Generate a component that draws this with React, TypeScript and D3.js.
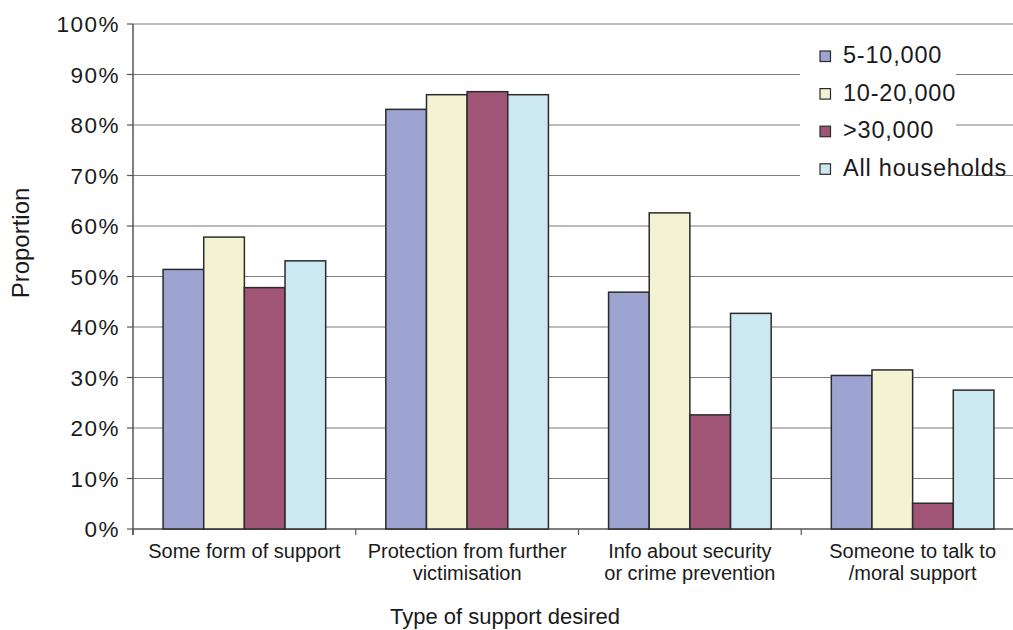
import React from "react";
import * as d3 from "d3";

const categories: string[][] = [
  ["Some form of support"],
  ["Protection from further", "victimisation"],
  ["Info about security", "or crime prevention"],
  ["Someone to talk to", "/moral support"],
];
const seriesNames = ["5-10,000", "10-20,000", ">30,000", "All households"];
const seriesColors = ["#9da4d2", "#f3f2d3", "#a05577", "#cce9f2"];
const s510 = [0.514, 0.831, 0.469, 0.304];
const s1020 = [0.578, 0.86, 0.626, 0.315];
const s30 = [0.478, 0.866, 0.226, 0.051];
const sAll = [0.531, 0.86, 0.427, 0.275];
const seriesValues = [s510, s1020, s30, sAll];
const yTicks = [0, 0.1, 0.2, 0.3, 0.4, 0.5, 0.6, 0.7, 0.8, 0.9, 1.0];

const W = 1013;
const H = 630;
const FONT = "'Liberation Sans', Arial, Helvetica, sans-serif";

export default function App() {
  const left = 133;
  const right = 1024;
  const top = 24;
  const bottom = 529;
  const catIdx = categories.map((_, i) => String(i));
  const x = d3.scaleBand().domain(catIdx).range([left, right]).paddingInner(0.27).paddingOuter(0.135);
  const xs = d3.scaleBand().domain(seriesNames).range([0, x.bandwidth()]).padding(0);
  const y = d3.scaleLinear().domain([0, 1]).range([bottom, top]);
  const fmt = d3.format(".0%");
  const step = x.step();
  const boundaries = d3.range(categories.length + 1).map((i) => left + i * step);

  return (
    <svg width={W} height={H} style={{ position: "absolute", left: 0, top: 0, background: "#fff" }} fontFamily={FONT}>
      {/* gridlines */}
      {yTicks.filter((t) => t > 0).map((t) => (
        <line key={"g" + t} x1={left} x2={W} y1={y(t)} y2={y(t)} stroke="#7d7d7d" strokeWidth={1.2} />
      ))}
      {/* legend background */}
      <rect x={800} y={36} width={156} height={154} fill="#fff" />
      {/* x-axis line */}
      <line x1={left} x2={W} y1={bottom} y2={bottom} stroke="#555" strokeWidth={1.5} />
      {boundaries.map((b, i) => (
        <line key={"xt" + i} x1={b} x2={b} y1={bottom} y2={bottom + 6} stroke="#555" strokeWidth={1.2} />
      ))}
      {/* y-axis */}
      <line x1={left} x2={left} y1={top} y2={bottom + 6} stroke="#555" strokeWidth={1.5} />
      {yTicks.map((t) => (
        <g key={"yt" + t}>
          <line x1={left - 6} x2={left} y1={y(t)} y2={y(t)} stroke="#555" strokeWidth={1.2} />
          <text x={left - 13} y={y(t)} dy="0.36em" textAnchor="end" fontSize={22.5} letterSpacing={1.5} fill="#1a1a1a">
            {fmt(t)}
          </text>
        </g>
      ))}
      {/* bars */}
      {categories.map((_, ci) => (
        <g key={"c" + ci} transform={`translate(${x(String(ci))},0)`}>
          {seriesNames.map((s, si) => (
            <rect
              key={s}
              x={xs(s)}
              y={y(seriesValues[si][ci])}
              width={xs.bandwidth()}
              height={bottom - y(seriesValues[si][ci])}
              fill={seriesColors[si]}
              stroke="#2b2b2b"
              strokeWidth={1.5}
            />
          ))}
        </g>
      ))}
      {/* category labels */}
      {categories.map((lines, ci) => (
        <text key={"cl" + ci} x={(x(String(ci)) as number) + x.bandwidth() / 2} y={558} textAnchor="middle" fontSize={20} fill="#1a1a1a">
          {lines.map((l, li) => (
            <tspan key={li} x={(x(String(ci)) as number) + x.bandwidth() / 2} dy={li === 0 ? 0 : 22}>
              {l}
            </tspan>
          ))}
        </text>
      ))}
      {/* axis titles */}
      <text x={505} y={624} textAnchor="middle" fontSize={22} fill="#1a1a1a">
        Type of support desired
      </text>
      <text transform="translate(29,243) rotate(-90)" textAnchor="middle" fontSize={24} fill="#1a1a1a">
        Proportion
      </text>
      {/* legend */}
      {seriesNames.map((s, i) => {
        const by = 63 + i * 37.6;
        return (
          <g key={"lg" + s}>
            <rect x={820} y={by - 12} width={10.5} height={10.5} fill={seriesColors[i]} stroke="#2b2b2b" strokeWidth={1.2} />
            <text x={843} y={by} fontSize={23.5} letterSpacing={0.8} fill="#1a1a1a">
              {s}
            </text>
          </g>
        );
      })}
    </svg>
  );
}
